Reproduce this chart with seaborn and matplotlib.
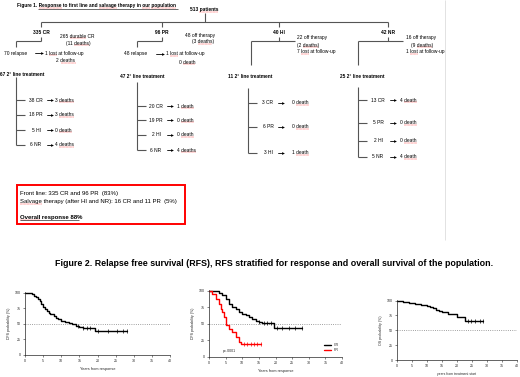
import numpy as np
import pandas as pd
import seaborn as sns
import matplotlib.pyplot as plt
from matplotlib.patches import Rectangle

sns.set_style("ticks")
plt.rcParams['font.family'] = ['Liberation Sans', 'DejaVu Sans']

# ---- flowchart data (figure 1) ----
total_label = "513 patients"
first_line = ["335 CR", "96 PR", "40 HI", "42 NR"]
first_notes = [["265 durable CR", "(11 deaths)"],
               ["48 off therapy", "(3 deaths)"],
               ["22 off therapy", "(2 deaths)", "7 lost at follow-up"],
               ["16 off therapy", "(9 deaths)", "1 lost at follow-up"]]
relapse = ["70 relapse", "48 relapse", None, None]
relapse_notes = [["1 lost at follow-up", "2 deaths"], ["1 lost at follow-up", "0 death"], None, None]
second_line = ["67 2° line treatment", "47 2° line treatment", "11 2° line treatment", "25 2° line treatment"]
second_resp = [["38 CR", "18 PR", "5 HI", "6 NR"],
               ["20 CR", "19 PR", "2 HI", "6 NR"],
               ["3 CR", "6 PR", "3 HI"],
               ["13 CR", "5 PR", "2 HI", "5 NR"]]
second_out = [["3 deaths", "3 deaths", "0 death", "4 deaths"],
              ["1 death", "0 death", "0 death", "4 deaths"],
              ["0 death", "0 death", "1 death"],
              ["4 death", "0 death", "0 death", "4 death"]]
summary = ["Front line: 335 CR and 96 PR  (83%)",
           "Salvage therapy (after HI and NR): 16 CR and 11 PR  (5%)",
           "Overall response 88%"]
squiggle_words = ["durable", "deaths", "death", "lost", "Response", "salvage", "our", "population",
                  "Salvage", "Overall", "patients"]

# ---- survival curves (figure 2) ----
rfs_t = [0, 1, 2, 2.5, 3, 3.5, 4, 4.5, 5, 5.5, 6, 6.5, 7, 8, 8.5, 9, 10, 11, 12, 13, 14, 15, 16, 19.4, 28]
rfs_s = [100, 99, 97, 95, 93, 90, 87, 82, 77, 73, 70, 67, 65, 62, 59, 57, 54, 53, 51, 49, 46, 45, 44, 38, 38]
rfs_cens = [14.5, 16, 17, 18, 20, 23, 25.5, 27, 28]

cr_t = [0, 2, 3, 4, 5, 6, 7, 8, 9, 10, 11, 12, 13, 14, 15, 16, 19.4, 28]
cr_s = [100, 99, 97, 93, 87, 80, 75, 72, 68, 65, 63, 61, 58, 55, 53, 51, 44, 44]
cr_cens = [15, 16.5, 17.5, 18.5, 20.5, 22, 24, 26, 28]
pr_t = [0, 1, 2, 3, 3.5, 4, 4.5, 5, 6, 7, 8, 9, 9.5, 15.5]
pr_s = [100, 95, 88, 80, 72, 68, 60, 48, 42, 37, 30, 22, 20, 20]
pr_cens = [10.5, 11.5, 12.5, 13.5, 14.5, 15.5]

os_t = [0, 2, 4, 6, 8, 10, 11, 12, 13, 14, 15, 17, 19, 20, 22.5, 28.5]
os_s = [100, 98, 96, 95, 93, 91, 89, 87, 84, 83, 81, 78, 77, 73, 66, 66]
os_cens = [23.5, 24.5, 26, 27.5, 28.5]

fig = plt.figure(figsize=(5.2, 3.77), dpi=100)
bg = fig.add_axes([0, 0, 1, 1])
bg.set_xlim(0, 520)
bg.set_ylim(377, 0)
bg.axis('off')
renderer = fig.canvas.get_renderer()

LC = '#555555'
FS = 3.5


def width_of(s, size, weight):
    t = bg.text(0, 0, s, fontsize=size, fontweight=weight)
    w = t.get_window_extent(renderer).width
    t.remove()
    return w


def txt(x, y, s, ha='left', size=FS, weight='normal', color='black', squig=True):
    bg.text(x, y, s, ha=ha, va='center', fontsize=size, fontweight=weight, color=color)
    if not squig:
        return
    full = width_of(s, size, weight)
    left = x - full / 2 if ha == 'center' else x
    for w in s.split():
        word = w.strip('()')
        if word in squiggle_words:
            i = s.index(word)
            x0 = left + width_of(s[:i], size, weight) if i else left
            x1 = left + width_of(s[:i + len(word)], size, weight)
            bg.plot([x0, x1], [y + size * 0.6, y + size * 0.6], color='red', lw=0.35,
                    ls=(0, (1, 0.6)))


def ln(xs, ys, lw=0.8, color=LC):
    bg.plot(xs, ys, color=color, lw=lw, solid_capstyle='butt')


def arrow(x1, x2, y):
    bg.plot([x1, x2 - 1], [y, y], color='black', lw=0.6)
    bg.plot([x2 - 1], [y], marker='>', ms=2, color='black', mew=0)


# title figure 1
txt(17, 6, "Figure 1. Response to first line and salvage therapy in our population", size=3.45, weight='bold')
ln([38, 178], [9.2, 9.2], lw=0.4, color='black')

# top of tree
txt(204, 10, total_label, ha='center', size=3.5, weight='bold')
ln([205, 205], [13, 22])
grp_x = [41, 162, 279, 388]
ln([grp_x[0], grp_x[-1]], [22, 22])
for gx in grp_x:
    ln([gx, gx], [22, 27])

branch_x = [16, 137, 251, 358]
branch_end = [41, 162, 295, 403]
note_x = [60, 185, 297, 406]
note_y = [[36, 43], [35, 42], [38, 45, 52], [38, 45, 52]]
for i, lab in enumerate(first_line):
    txt(grp_x[i], 33, lab, ha='center', size=3.5, weight='bold')
    ln([grp_x[i], grp_x[i]], [36.5, 40.5])
    ln([branch_x[i], branch_end[i]], [40.5, 40.5])
    for j, nt in enumerate(first_notes[i]):
        if nt.startswith('(') and i < 2:
            txt(note_x[i] + 18, note_y[i][j], nt, ha='center')
        elif nt.startswith('(') and i == 3:
            txt(note_x[i] + 16, note_y[i][j], nt, ha='center')
        else:
            txt(note_x[i], note_y[i][j], nt)

# relapse branches
rel_y = [53, 54]
rel_x = [4, 124]
for i in range(2):
    ln([branch_x[i], branch_x[i]], [40.5, 47])
    txt(rel_x[i], rel_y[i], relapse[i])
    arrow(branch_x[i] + 19, branch_x[i] + 27, rel_y[i])
    txt(branch_x[i] + 29, rel_y[i], relapse_notes[i][0])
    txt(branch_x[i] + 50, rel_y[i] + 8, relapse_notes[i][1], ha='center')
for i in range(2, 4):
    ln([branch_x[i], branch_x[i]], [40.5, 65])

# second-line trees
sl_x = [0, 120, 228, 340]
sl_y = [74, 77, 77, 77]
tree_x = [16, 137, 248, 358]
tree_top = [77, 82, 88, 87]
tree_ys = [[100, 115, 130, 145], [106, 120, 135, 150], [103, 127, 153], [100, 123, 141, 157]]
resp_cx = [36, 156, 268, 378]
arr_x = [47, 167, 278, 390]
out_x = [55, 177, 292, 400]
for i in range(4):
    txt(sl_x[i], sl_y[i], second_line[i], size=3.4, weight='bold')
    ln([tree_x[i], tree_x[i]], [tree_top[i], tree_ys[i][-1]])
    for k, yy in enumerate(tree_ys[i]):
        ln([tree_x[i], tree_x[i] + 9], [yy, yy])
        txt(resp_cx[i], yy, second_resp[i][k], ha='center')
        arrow(arr_x[i], arr_x[i] + 6, yy)
        txt(out_x[i], yy, second_out[i][k])

# page edge
ln([445, 445], [0, 240], lw=0.6, color='#dddddd')

# summary box
bg.add_patch(Rectangle((17, 185), 168, 39, fill=False, edgecolor='red', lw=1.4))
txt(20, 193, summary[0], size=4.35)
txt(20, 201, summary[1], size=4.35)
txt(20, 217, summary[2], size=4.35, weight='bold')
ln([20, 79], [220.3, 220.3], lw=0.4, color='black')

# figure 2 title
txt(274, 263, "Figure 2. Relapse free survival (RFS), RFS stratified for response and overall survival of the population.",
    ha='center', size=6.4, weight='bold', squig=False)


def step_at(t, s, x):
    idx = np.searchsorted(t, x, side='right') - 1
    return np.asarray(s)[idx]


def style(ax, ylab, xlab, xsize=2.8):
    ax.set_xlim(0, 40)
    ax.set_ylim(0, 101)
    ax.set_xticks(range(0, 41, 5))
    ax.set_yticks([0, 25, 50, 75, 100])
    ax.tick_params(labelsize=2.6, length=1.5, width=0.4, pad=1.5)
    sns.despine(ax=ax)
    for sp in ['left', 'bottom']:
        ax.spines[sp].set_linewidth(0.5)
    ax.axhline(50, color='gray', ls=':', lw=0.6, zorder=0)
    ax.set_xlabel(xlab, fontsize=xsize, labelpad=3)
    ax.set_ylabel(ylab, fontsize=2.6, labelpad=3)
    ax.set_facecolor('none')


def km(ax, t, s, cens, color, label=None):
    df = pd.DataFrame({"t": t, "s": s})
    sns.lineplot(data=df, x="t", y="s", ax=ax, color=color, lw=1.0, drawstyle='steps-post',
                 estimator=None, label=label, legend=False)
    ax.scatter(cens, step_at(t, s, cens), marker='|', s=5, color=color, lw=0.5, zorder=3)


ax1 = fig.add_axes([25 / 520, 1 - 355 / 377, 145 / 520, 63 / 377])
km(ax1, rfs_t, rfs_s, rfs_cens, 'black')
style(ax1, "DFS probability (%)", "Years from response")

ax2 = fig.add_axes([209 / 520, 1 - 357 / 377, 133 / 520, 67 / 377])
km(ax2, cr_t, cr_s, cr_cens, 'black', 'CR')
km(ax2, pr_t, pr_s, pr_cens, 'red', 'PR')
style(ax2, "DFS probability (%)", "Years from response")
ax2.text(4, 7, "p=.0001", fontsize=2.6)
ax2.legend(loc='lower right', bbox_to_anchor=(1.0, 0.02), fontsize=2.6, frameon=False,
           handlelength=1.8, labelspacing=0.3)

ax3 = fig.add_axes([397 / 520, 1 - 360 / 377, 120 / 520, 60 / 377])
km(ax3, os_t, os_s, os_cens, 'black')
style(ax3, "OS probability (%)", "years from treatment start", xsize=2.4)

fig.savefig("out.png", dpi=100, facecolor='white')
